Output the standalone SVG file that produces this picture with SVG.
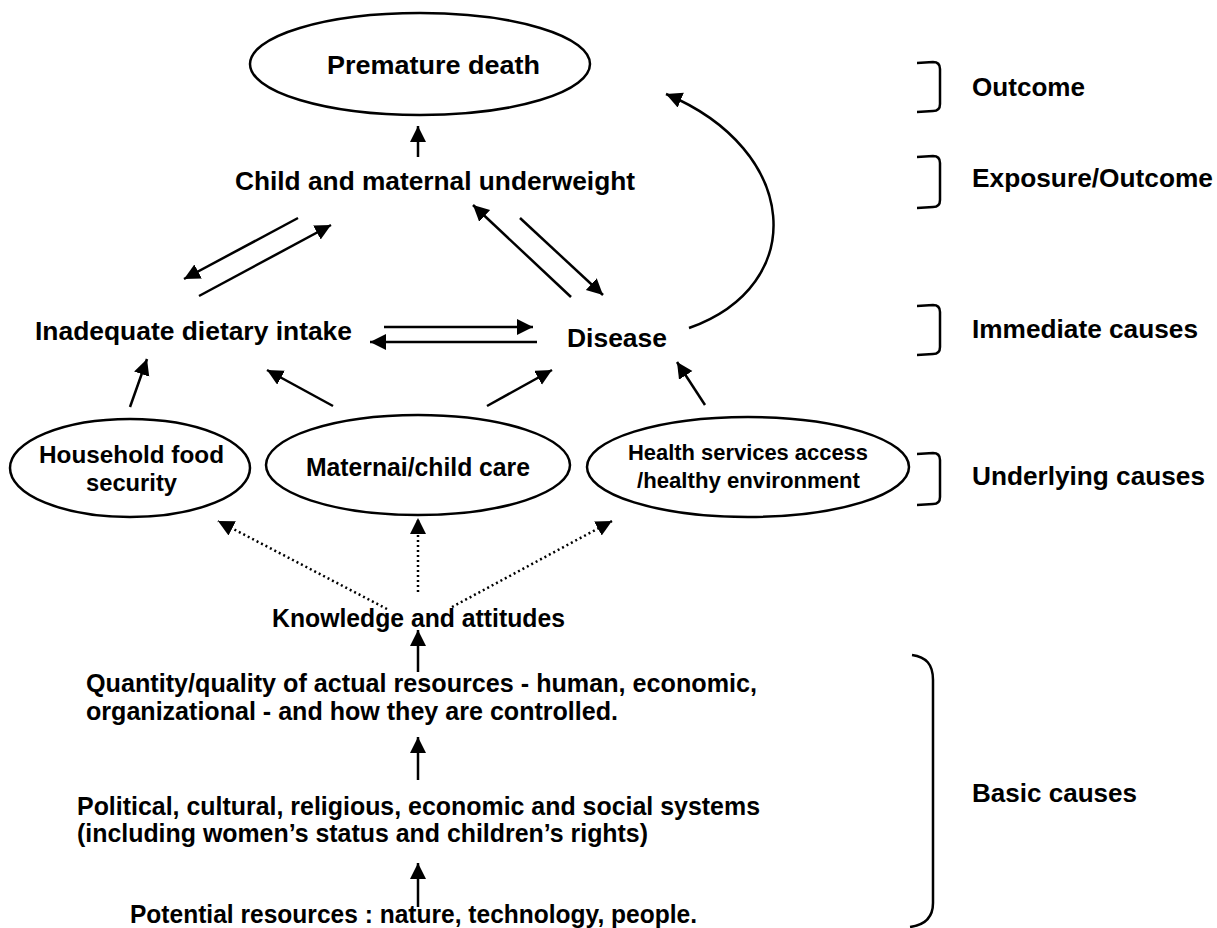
<svg xmlns="http://www.w3.org/2000/svg" width="1217" height="928" viewBox="0 0 1217 928">
<style>
text{font-family:"Liberation Sans",Arial,sans-serif;font-weight:bold;fill:#000}
.t26{font-size:26px}
.t25{font-size:25px}
.t24{font-size:24px}
.t22{font-size:22px}
.node{fill:#fff;stroke:#000;stroke-width:2.5}
.conn{fill:none;stroke:#000;stroke-width:2.5}
.dot{fill:none;stroke:#000;stroke-width:2.5;stroke-dasharray:2 3}
.br{fill:none;stroke:#000;stroke-width:2.5}
</style>
<defs>
<marker id="ah" markerUnits="userSpaceOnUse" markerWidth="18" markerHeight="18" refX="16" refY="8" orient="auto">
<path d="M0,0 L16,8 L0,16 z" fill="#000"/>
</marker>
</defs>
<rect width="1217" height="928" fill="#fff"/>

<g id="premature">
<ellipse class="node" cx="420" cy="64" rx="170" ry="51"/>
<text class="t26" x="327" y="74" font-size="27" textLength="213" lengthAdjust="spacingAndGlyphs">Premature death</text>
</g>
<g id="underweight">
<text class="t26" x="235" y="190" textLength="400" lengthAdjust="spacingAndGlyphs">Child and maternal underweight</text>
</g>
<g id="intake">
<text class="t26" x="35" y="340" textLength="317" lengthAdjust="spacingAndGlyphs">Inadequate dietary intake</text>
</g>
<g id="disease">
<text class="t26" x="567" y="347" textLength="100" lengthAdjust="spacingAndGlyphs">Disease</text>
</g>
<g id="household">
<ellipse class="node" cx="130" cy="468" rx="120" ry="49"/>
<text class="t24" x="39" y="463" textLength="185" lengthAdjust="spacingAndGlyphs">Household food</text>
<text class="t24" x="86" y="491" textLength="91" lengthAdjust="spacingAndGlyphs">security</text>
</g>
<g id="maternal">
<ellipse class="node" cx="418" cy="465" rx="152" ry="50"/>
<text class="t25" x="306" y="476" textLength="224" lengthAdjust="spacingAndGlyphs">Maternai/child care</text>
</g>
<g id="health">
<ellipse class="node" cx="748" cy="467" rx="161" ry="50"/>
<text class="t22" x="628" y="460" textLength="240" lengthAdjust="spacingAndGlyphs">Health services access</text>
<text class="t22" x="637" y="488" textLength="223" lengthAdjust="spacingAndGlyphs">/healthy environment</text>
</g>
<g id="knowledge">
<text class="t25" x="272" y="627" textLength="293" lengthAdjust="spacingAndGlyphs">Knowledge and attitudes</text>
</g>
<g id="resources">
<text class="t25" x="86" y="692" textLength="671" lengthAdjust="spacingAndGlyphs">Quantity/quality of actual resources - human, economic,</text>
<text class="t25" x="86" y="720" textLength="532" lengthAdjust="spacingAndGlyphs">organizational - and how they are controlled.</text>
</g>
<g id="systems">
<text class="t25" x="77" y="815" textLength="683" lengthAdjust="spacingAndGlyphs">Political, cultural, religious, economic and social systems</text>
<text class="t25" x="77" y="842" textLength="571" lengthAdjust="spacingAndGlyphs">(including women’s status and children’s rights)</text>
</g>
<g id="potential">
<text class="t25" x="130" y="923" textLength="567" lengthAdjust="spacingAndGlyphs">Potential resources : nature, technology, people.</text>
</g>

<g id="connectors">
<line class="conn" x1="418" y1="157" x2="418" y2="126" marker-end="url(#ah)"/>
<line class="conn" x1="298" y1="218" x2="184" y2="279" marker-end="url(#ah)"/>
<line class="conn" x1="199" y1="296" x2="331" y2="225" marker-end="url(#ah)"/>
<line class="conn" x1="571" y1="297" x2="473" y2="205" marker-end="url(#ah)"/>
<line class="conn" x1="520" y1="218" x2="603" y2="295" marker-end="url(#ah)"/>
<line class="conn" x1="384" y1="327" x2="533" y2="327" marker-end="url(#ah)"/>
<line class="conn" x1="537" y1="342" x2="370" y2="342" marker-end="url(#ah)"/>
<path class="conn" d="M689,328 C810,285 800,150 666,94" marker-end="url(#ah)"/>
<line class="conn" x1="130" y1="407" x2="147" y2="359" marker-end="url(#ah)"/>
<line class="conn" x1="333" y1="406" x2="267" y2="370" marker-end="url(#ah)"/>
<line class="conn" x1="487" y1="406" x2="552" y2="370" marker-end="url(#ah)"/>
<line class="conn" x1="705" y1="405" x2="677" y2="362" marker-end="url(#ah)"/>
<line class="dot" x1="387" y1="609" x2="218" y2="521" marker-end="url(#ah)"/>
<line class="dot" x1="418" y1="592" x2="418" y2="518" marker-end="url(#ah)"/>
<line class="dot" x1="452" y1="607" x2="612" y2="521" marker-end="url(#ah)"/>
<line class="conn" x1="418" y1="672" x2="418" y2="630" marker-end="url(#ah)"/>
<line class="conn" x1="418" y1="780" x2="418" y2="737" marker-end="url(#ah)"/>
<line class="conn" x1="418" y1="907" x2="418" y2="863" marker-end="url(#ah)"/>
</g>

<g id="levels">
<path class="br" d="M917,63 L933,62 Q940,62 940,69 L940,104 Q940,111 933,111 L917,112"/>
<text class="t26" x="972" y="96" textLength="113" lengthAdjust="spacingAndGlyphs">Outcome</text>
<path class="br" d="M917,157 L933,156 Q940,156 940,163 L940,200 Q940,207 933,207 L917,208"/>
<text class="t26" x="972" y="187" textLength="241" lengthAdjust="spacingAndGlyphs">Exposure/Outcome</text>
<path class="br" d="M917,306 L933,305 Q940,305 940,312 L940,347 Q940,354 933,354 L917,355"/>
<text class="t26" x="972" y="338" textLength="226" lengthAdjust="spacingAndGlyphs">Immediate causes</text>
<path class="br" d="M917,454 L933,453 Q940,453 940,460 L940,497 Q940,504 933,504 L917,505"/>
<text class="t26" x="972" y="485" textLength="233" lengthAdjust="spacingAndGlyphs">Underlying causes</text>
<path class="br" d="M912,655 C926,657 933,664 933,680 L933,903 C933,918 925,925 910,927"/>
<text class="t26" x="972" y="802" textLength="165" lengthAdjust="spacingAndGlyphs">Basic causes</text>
</g>
</svg>
